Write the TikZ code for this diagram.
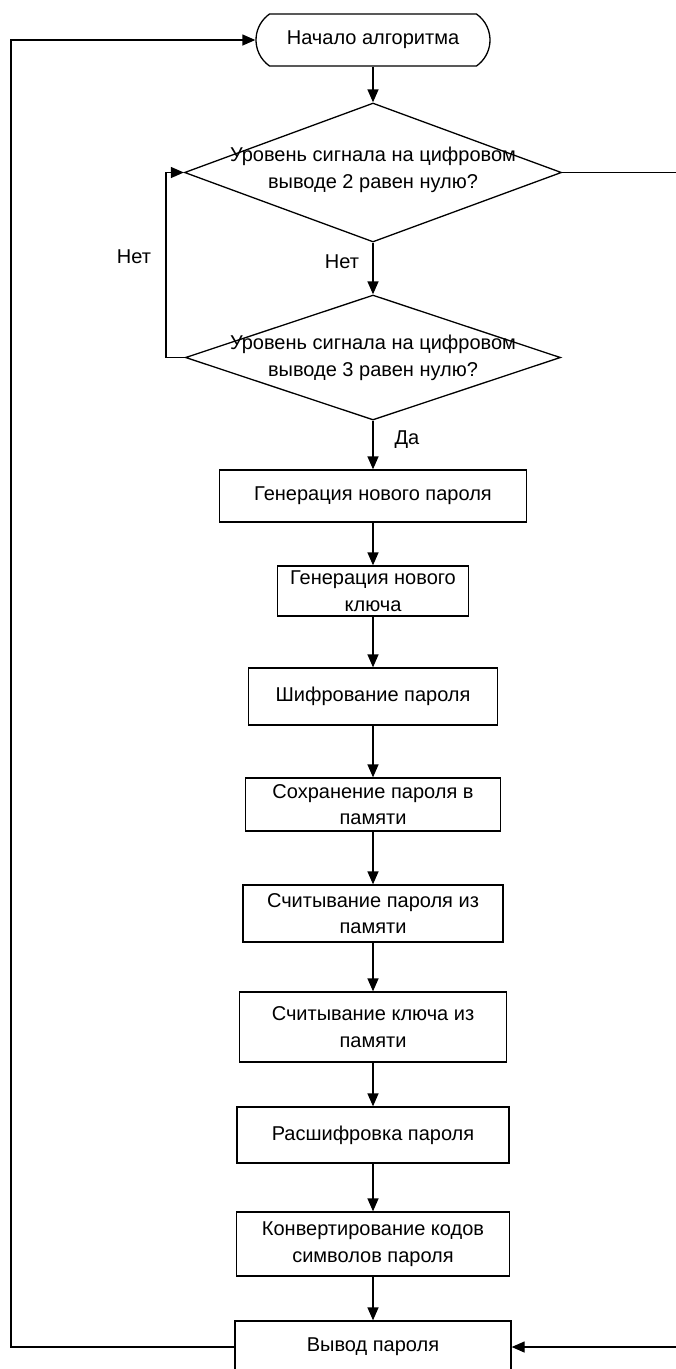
\documentclass[tikz,border=0pt]{standalone}
\usepackage{fontspec}
\setmainfont{Liberation Sans}
\usetikzlibrary{arrows.meta,shapes.geometric,shapes.misc}
\begin{document}
\begin{tikzpicture}[x=1pt,y=-1pt,
  every node/.style={font=\fontsize{20}{26.5}\selectfont, inner sep=0pt, align=center},
  procbox/.style={draw, line width=1.3pt},
  startbox/.style={draw, line width=1.3pt, rounded rectangle, rounded rectangle arc length=110},
  decbox/.style={draw, line width=1.3pt, diamond},
  conn/.style={line width=1.3pt},
  arr/.style={conn, -{Triangle[width=11pt,length=13pt]}}]
\useasboundingbox (0,0) rectangle (676,1369);
% start
\node[startbox, minimum width=234pt, minimum height=52pt] (t) at (373,40) {Начало алгоритма};
% decisions
\node[decbox, minimum width=377pt, minimum height=139pt] (d1) at (373,172.5) {};
\node (d1t) at (373,170) {Уровень сигнала на цифровом\\выводе 2 равен нулю?};
\node[decbox, minimum width=375pt, minimum height=125pt] (d2) at (373,357.5) {};
\node (d2t) at (373,358) {Уровень сигнала на цифровом\\выводе 3 равен нулю?};
% process boxes
\node[procbox, minimum width=307pt, minimum height=52pt] (b1) at (373,496) {Генерация нового пароля};
\node[procbox, minimum width=191pt, minimum height=50pt] (b2) at (373,591) {Генерация нового\\ключа};
\node[procbox, minimum width=249pt, minimum height=57pt] (b3) at (373,696.5) {Шифрование пароля};
\node[procbox, minimum width=255pt, minimum height=53pt] (b4) at (373,804.5) {Сохранение пароля в\\памяти};
\node[procbox, minimum width=260pt, minimum height=57pt] (b5) at (373,913.5) {Считывание пароля из\\памяти};
\node[procbox, minimum width=267pt, minimum height=70pt] (b6) at (373,1027) {Считывание ключа из\\памяти};
\node[procbox, minimum width=272pt, minimum height=56pt] (b7) at (373,1135) {Расшифровка пароля};
\node[procbox, minimum width=273pt, minimum height=64pt] (b8) at (373,1244) {Конвертирование кодов\\символов пароля};
\node[procbox, minimum width=276pt, minimum height=52pt] (b9) at (373,1347) {Вывод пароля};
% labels
\node (l1) at (134,257) {Нет};
\node (l2) at (342,262) {Нет};
\node (l3) at (407,440) {Да};
% helper coordinates
\coordinate (cl) at (166,0);
\coordinate (cr) at (679,0);
\coordinate (cf) at (11,0);
% connectors
\draw[arr] (t.south) -- (d1.north);
\draw[arr] (d1.south) -- (d2.north);
\draw[arr] (d2.south) -- (b1.north);
\draw[arr] (b1.south) -- (b2.north);
\draw[arr] (b2.south) -- (b3.north);
\draw[arr] (b3.south) -- (b4.north);
\draw[arr] (b4.south) -- (b5.north);
\draw[arr] (b5.south) -- (b6.north);
\draw[arr] (b6.south) -- (b7.north);
\draw[arr] (b7.south) -- (b8.north);
\draw[arr] (b8.south) -- (b9.north);
\draw[arr] (d2.west) -- (d2.west -| cl) -- (d1.west -| cl) -- (d1.west);
\draw[arr] (d1.east) -- (d1.east -| cr) -- (b9.east -| cr) -- (b9.east);
\draw[arr] (b9.west) -- (b9.west -| cf) -- (t.west -| cf) -- (t.west);
\end{tikzpicture}
\end{document}
